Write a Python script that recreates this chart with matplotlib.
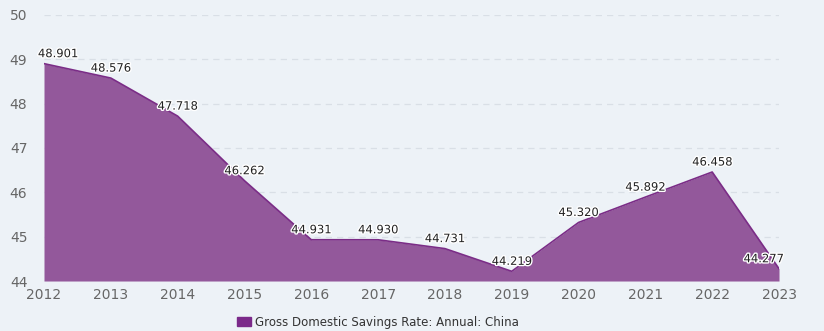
import matplotlib.pyplot as plt
import matplotlib.patheffects as pe

years = [2012, 2013, 2014, 2015, 2016, 2017, 2018, 2019, 2020, 2021, 2022, 2023]
rate = [48.901, 48.576, 47.718, 46.262, 44.931, 44.930, 44.731, 44.219, 45.320, 45.892, 46.458, 44.277]
series_name = 'Gross Domestic Savings Rate: Annual: China'

bg = '#edf2f7'
fig = plt.figure(figsize=(8.24, 3.31), dpi=100, facecolor=bg)
ax = fig.add_axes([0.0534, 0.151, 0.892, 0.804], facecolor=bg)

ax.fill_between(years, rate, 44, color='#93589b', linewidth=0, zorder=2)
ax.plot(years, rate, color='#7b2d87', linewidth=1.2, zorder=3)

ax.set_xlim(2012, 2023)
ax.set_ylim(44, 50)
ax.set_xticks(years)
ax.set_yticks(range(44, 51))
ax.grid(axis='y', color='#d9dfe6', linestyle=(0, (5, 4)), linewidth=0.9, zorder=1)
for s in ax.spines.values():
    s.set_visible(False)
ax.tick_params(length=0, colors='#666666', labelsize=10)
ax.tick_params(axis='y', pad=12)
ax.tick_params(axis='x', pad=5)

# data labels, nudged in at the edges like the original
for i, (x, y) in enumerate(zip(years, rate)):
    dx = 0
    if i == 0:
        dx = 10
    elif i == len(years) - 1:
        dx = -11
    ax.annotate(f'{y:.3f}', (x, y), xytext=(dx, 2.5), textcoords='offset points',
                ha='center', va='bottom', fontsize=8.3, color='#222222', zorder=5,
                path_effects=[pe.withStroke(linewidth=2, foreground='white')],
                annotation_clip=False)

leg = fig.legend(handles=[plt.Rectangle((0, 0), 1, 1, color='#7b2a8a')], labels=[series_name],
                 loc='center left', bbox_to_anchor=(0.275, 0.027), frameon=False,
                 fontsize=8.5, handlelength=1.2, handleheight=0.9, handletextpad=0.3)
for t in leg.get_texts():
    t.set_color('#333333')

plt.savefig('out.png', dpi=100, facecolor=bg)
